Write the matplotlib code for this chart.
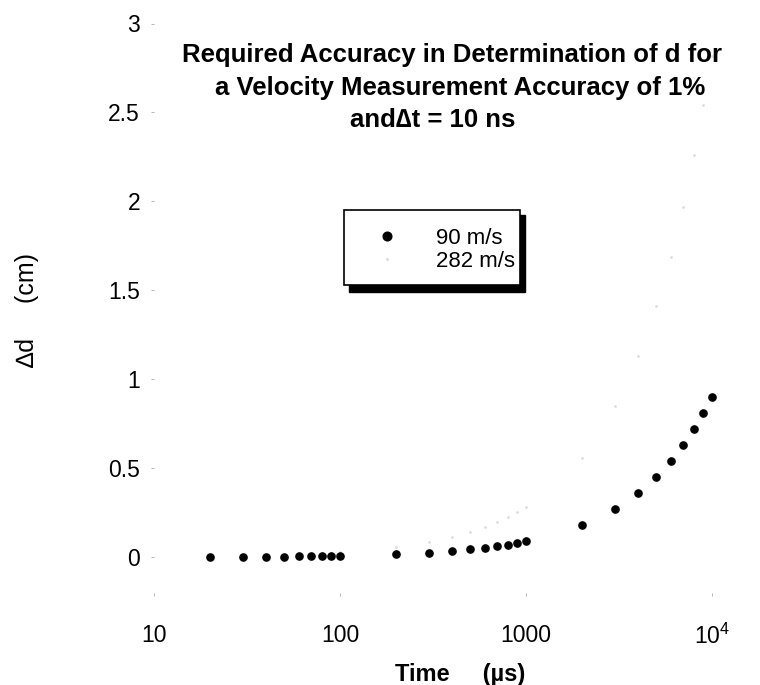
import matplotlib
matplotlib.use("Agg")
import matplotlib.pyplot as plt
from matplotlib.patches import Rectangle

plt.rcParams['font.family'] = ['Liberation Sans', 'DejaVu Sans']
plt.rcParams['mathtext.fontset'] = 'custom'
plt.rcParams['mathtext.rm'] = 'Liberation Sans'
plt.rcParams['mathtext.it'] = 'Liberation Sans'

time_us = [20, 30, 40, 50, 60, 70, 80, 90, 100,
           200, 300, 400, 500, 600, 700, 800, 900, 1000,
           2000, 3000, 4000, 5000, 6000, 7000, 8000, 9000, 10000]
dd_90 = [0.0018, 0.0027, 0.0036, 0.0045, 0.0054, 0.0063, 0.0072, 0.0081, 0.009,
         0.018, 0.027, 0.036, 0.045, 0.054, 0.063, 0.072, 0.081, 0.09,
         0.18, 0.27, 0.36, 0.45, 0.54, 0.63, 0.72, 0.81, 0.90]
dd_282 = [0.0056, 0.0085, 0.0113, 0.0141, 0.0169, 0.0197, 0.0226, 0.0254, 0.0282,
          0.056, 0.085, 0.113, 0.141, 0.169, 0.197, 0.226, 0.254, 0.282,
          0.56, 0.85, 1.13, 1.41, 1.69, 1.97, 2.26, 2.54, 2.82]
series_labels = ['90 m/s', '282 m/s']
xtick_vals = [10, 100, 1000, 10000]
xtick_labels = ['10', '100', '1000', '10$^4$']
ytick_vals = [0, 0.5, 1, 1.5, 2, 2.5, 3]
ytick_labels = ['0', '0.5', '1', '1.5', '2', '2.5', '3']

W, H = 760, 685
fig = plt.figure(figsize=(W / 100, H / 100), dpi=100)
ax = fig.add_axes([154 / W, 1 - 593 / H, 558 / W, 569.5 / H])

ax.plot(time_us, dd_90, 'o', color='black', ms=5.2, label=series_labels[0],
        zorder=4, clip_on=False)
ax.plot(time_us, dd_282, '.', color='#dedede', ms=2.0, label=series_labels[1],
        zorder=3, clip_on=False)

ax.set_xscale('log')
ax.set_xlim(10, 10000)
ax.set_ylim(-0.2, 3)
ax.set_xticks(xtick_vals)
ax.set_xticklabels(xtick_labels)
ax.minorticks_off()
ax.set_yticks(ytick_vals)
ax.set_yticklabels(ytick_labels)
for s in ax.spines.values():
    s.set_visible(False)
ax.tick_params(axis='both', length=2, width=0.6, color='#aaaaaa', labelsize=16.5)
ax.tick_params(axis='y', pad=8)
ax.tick_params(axis='x', pad=20)

ax.set_ylabel('\u2206d     (cm)', fontsize=18)
ax.yaxis.set_label_coords(-(154 - 27) / 558, (593 - 310) / 569.5)
ax.yaxis.label.set_va('center')
ax.set_xlabel('Time     (\u00b5s)', fontsize=17, fontweight='bold')
ax.xaxis.set_label_coords((460 - 154) / 558, -(675 - 593) / 569.5)
ax.xaxis.label.set_va('center')

fig.text(452 / W, 1 - 55 / H, 'Required Accuracy in Determination of d for',
         ha='center', va='center', fontsize=18.5, fontweight='bold')
fig.text(460 / W, 1 - 88 / H, 'a Velocity Measurement Accuracy of 1%',
         ha='center', va='center', fontsize=18.5, fontweight='bold')
fig.text(433 / W, 1 - 120 / H, 'and\u2206t = 10 ns',
         ha='center', va='center', fontsize=18.5, fontweight='bold')

# legend frame with solid shadow
fig.add_artist(Rectangle((349 / W, 1 - 292 / H), 176 / W, 77 / H,
                         transform=fig.transFigure, facecolor='black',
                         edgecolor='black', zorder=5))
fig.add_artist(Rectangle((344 / W, 1 - 285 / H), 176 / W, 75 / H,
                         transform=fig.transFigure, facecolor='white',
                         edgecolor='black', linewidth=1.2, zorder=6))
leg = ax.legend(loc='center left', bbox_to_anchor=(365 / W, 1 - 250 / H),
                bbox_transform=fig.transFigure, fontsize=16, frameon=False,
                handlelength=2.0, handletextpad=1.2, borderpad=0,
                labelspacing=0.1, borderaxespad=0, markerscale=1.2)
leg.set_zorder(7)
fig.add_artist(leg)

fig.savefig('out.png', dpi=100)
